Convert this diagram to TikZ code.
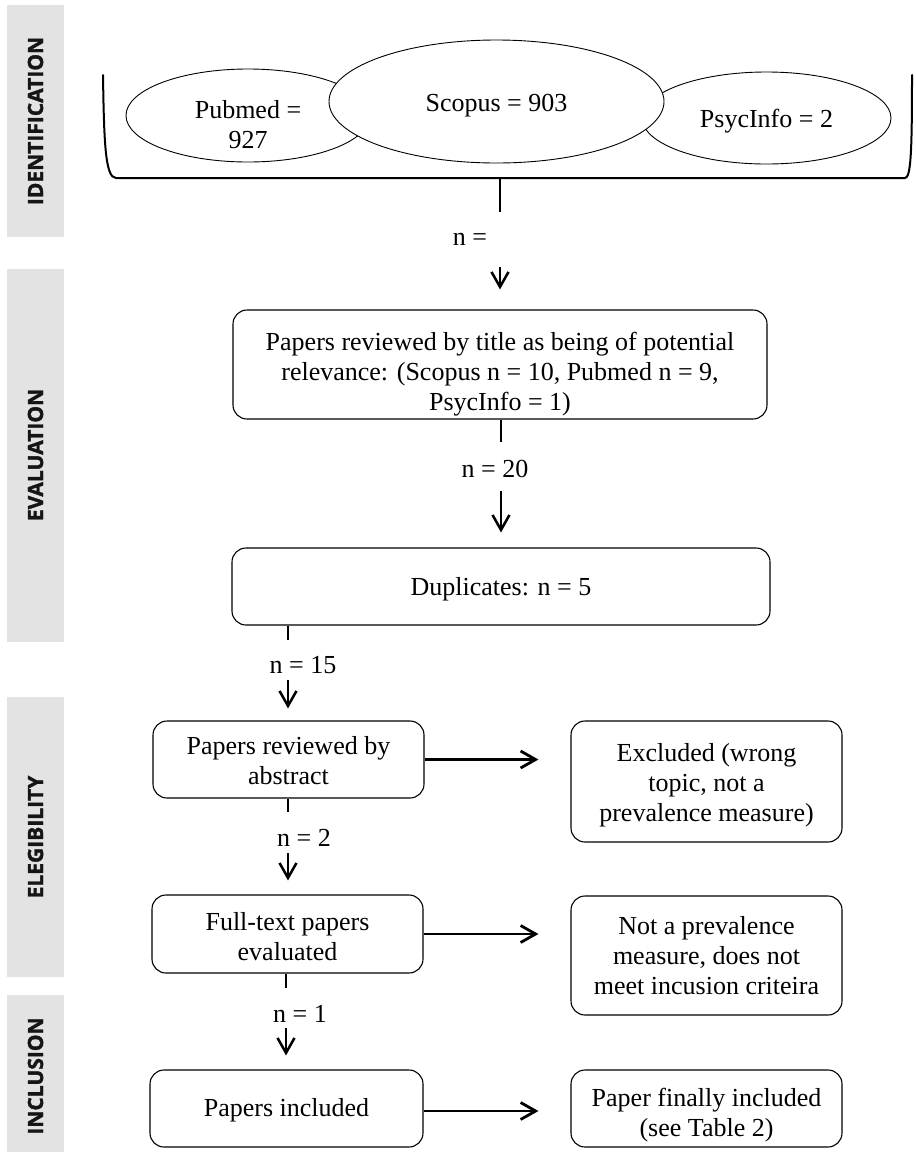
\documentclass[tikz,border=0pt]{standalone}
\usepackage{fontspec}
\setmainfont{Liberation Serif}
\newfontfamily\sidefont{Open Sans}[FakeBold=1.6]
\usetikzlibrary{arrows.meta,shapes.geometric}
\definecolor{bandgray}{HTML}{E3E3E3}
\definecolor{sidetext}{HTML}{151515}
\newcommand{\dn}[2]{\raisebox{-#1}[\height][\depth]{\begin{tabular}{@{}c@{}}#2\end{tabular}}}
\begin{document}
\begin{tikzpicture}[x=1pt,y=-1pt,
  font=\fontsize{26}{30}\selectfont,
  bandbox/.style={fill=bandgray,draw=none},
  bandlabel/.style={font=\sidefont\bfseries\fontsize{21}{21}\selectfont,rotate=90,text=sidetext,inner sep=0pt},
  dbell/.style={ellipse,draw=black,line width=0.9pt,fill=white,inner sep=0pt,align=center},
  stepbox/.style={draw=black,line width=1.1pt,rounded corners=14pt,inner sep=0pt,align=center},
  tray/.style={line width=2pt,line cap=round},
  stem/.style={line width=2.8pt},
  varrow/.style={line width=2.5pt,-{Straight Barb[length=15pt,width=17pt,line width=2.5pt]}},
  harrow/.style={line width=2.8pt,-{Straight Barb[length=15pt,width=17pt,line width=2.8pt]}},
  nlabel/.style={inner sep=0pt}
]
\useasboundingbox (0,0) rectangle (916,1152);

% side bands
\fill[bandbox] (7,5) rectangle (64,237);
\fill[bandbox] (7,269) rectangle (64,642);
\fill[bandbox] (7,697) rectangle (64,977);
\fill[bandbox] (7,995) rectangle (64,1152);
\node[bandlabel] (lid) at (35.5,121) {IDENTIFICATION};
\node[bandlabel] (lev) at (35.5,455) {EVALUATION};
\node[bandlabel] (lel) at (35.5,837) {ELEGIBILITY};
\node[bandlabel] (lin) at (35.5,1076) {INCLUSION};

% databases
\node[dbell,minimum width=244pt,minimum height=93pt] (pubmed) at (248,115.5) {\dn{12pt}{Pubmed =\\927}};
\node[dbell,minimum width=249pt,minimum height=92pt] (psyc) at (766.5,118) {\dn{3pt}{PsycInfo = 2}};
\node[dbell,minimum width=335pt,minimum height=123pt] (scopus) at (496.5,101.5) {\dn{4pt}{Scopus = 903}};

% tray
\draw[tray] (103,75) .. controls (104,140) and (105,178) .. (116,178) -- (905,178) .. controls (911,178) and (912,150) .. (912,75);
\coordinate (traybot) at (500,178);
\coordinate (s0) at (500,212);
\coordinate (a0) at (500,267);
\draw[line width=2pt] (traybot) -- (s0);
\node[nlabel] (n0) at (470,239) {n =};

% boxes
\node[stepbox,minimum width=534pt,minimum height=109pt] (pot) at (500,364.5)
  {\dn{10pt}{Papers reviewed by title as being of potential\\relevance: (Scopus n = 10, Pubmed n = 9,\\PsycInfo = 1)}};
\node[stepbox,minimum width=538pt,minimum height=77pt] (dup) at (501,586.5) {\dn{3pt}{Duplicates: n = 5}};
\node[stepbox,minimum width=271pt,minimum height=77pt] (abs) at (288.5,759.5) {\dn{4pt}{Papers reviewed by\\abstract}};
\node[stepbox,minimum width=271pt,minimum height=78pt] (full) at (287.5,934) {\dn{5pt}{Full-text papers\\evaluated}};
\node[stepbox,minimum width=273pt,minimum height=77pt] (incl) at (286.5,1108.5) {\dn{2pt}{Papers included}};
\node[stepbox,minimum width=271pt,minimum height=121pt] (excl) at (706.5,781.5) {\dn{4pt}{Excluded (wrong\\topic, not a\\prevalence measure)}};
\node[stepbox,minimum width=271pt,minimum height=119pt] (notp) at (706.5,955.5) {Not a prevalence\\measure, does not\\meet incusion criteira};
\node[stepbox,minimum width=271pt,minimum height=77pt] (fin) at (706.5,1108.5) {\dn{7pt}{Paper finally included\\(see Table 2)}};

\draw[varrow,shorten >=20pt] (a0) -- (pot.north);

% pot -> dup
\coordinate (s1) at (501,442);
\coordinate (a1) at (501,491);
\draw[stem] (pot.south -| s1) -- (s1);
\node[nlabel] (n1) at (495,469) {n = 20};
\draw[varrow,shorten >=15pt] (a1) -- (dup.north -| a1);

% dup -> abs
\coordinate (s2) at (288,640);
\coordinate (a2) at (288,680);
\draw[stem] (dup.south -| s2) -- (s2);
\node[nlabel] (n2) at (303,665) {n = 15};
\draw[varrow,shorten >=12pt] (a2) -- (abs.north -| a2);

% abs -> full
\coordinate (s3) at (288,812);
\coordinate (a3) at (288,853);
\draw[stem] (abs.south -| s3) -- (s3);
\node[nlabel] (n3) at (304,838) {n = 2};
\draw[varrow,shorten >=14pt] (a3) -- (full.north -| a3);

% full -> incl
\coordinate (s4) at (286,988);
\coordinate (a4) at (286,1028);
\draw[stem] (full.south -| s4) -- (s4);
\node[nlabel] (n4) at (300,1014) {n = 1};
\draw[varrow,shorten >=14pt] (a4) -- (incl.north -| a4);

% horizontal arrows
\draw[harrow,shorten >=32pt] (abs.east) -- (abs.east -| excl.west);
\draw[harrow,shorten >=32pt] (full.east) -- (full.east -| notp.west);
\draw[harrow,shorten >=32pt] ([yshift=-2.5pt]incl.east) -- ([yshift=-2.5pt]incl.east -| fin.west);
\end{tikzpicture}
\end{document}
